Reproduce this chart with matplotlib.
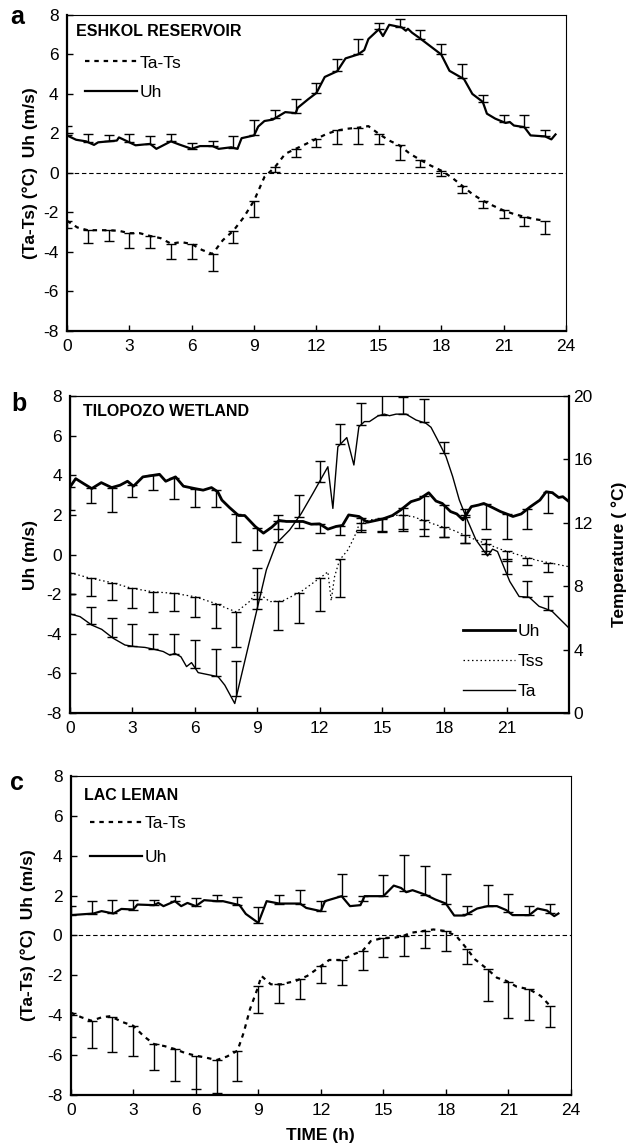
import numpy as np
import matplotlib
matplotlib.use('Agg')
import matplotlib.pyplot as plt
from matplotlib.lines import Line2D

plt.rcParams['font.family'] = ['Liberation Sans', 'DejaVu Sans']
plt.rcParams['axes.unicode_minus'] = False

hours = np.arange(24)

# Panel a - Eshkol reservoir
a_uh_t = [0, 0.44, 0.92, 1.3, 1.5, 2.0, 2.4, 2.5, 2.9, 3.3, 4.0, 4.3, 5.0, 5.4, 6.0,
          6.4, 7.0, 7.3, 7.9, 8.2, 8.4, 9.0, 9.2, 9.5, 9.9, 10.5, 11.0, 11.1, 11.6, 12.0,
          12.4, 13.0, 13.4, 14.0, 14.3, 14.5, 15.0, 15.2, 15.5, 16.1, 16.3, 16.4, 16.6, 17.0, 17.5,
          18.0, 18.4, 19.1, 19.5, 20.0, 20.2, 20.6, 21.1, 21.3, 21.5, 22.0, 22.3, 23.0, 23.3, 23.5]
a_uh = [1.9, 1.68, 1.6, 1.42, 1.55, 1.6, 1.64, 1.8, 1.6, 1.4, 1.47, 1.22, 1.6, 1.44, 1.22,
        1.36, 1.36, 1.22, 1.3, 1.22, 1.76, 1.9, 2.35, 2.63, 2.7, 3.08, 3.03, 3.3, 3.73, 4.05,
        4.86, 5.15, 5.8, 6.0, 6.22, 6.78, 7.27, 6.93, 7.5, 7.37, 7.2, 7.3, 7.1, 6.8, 6.4,
        6.0, 5.17, 4.75, 4.0, 3.6, 3.0, 2.75, 2.53, 2.58, 2.4, 2.32, 1.9, 1.85, 1.7, 1.95]
a_uh_top = [2.4, 1.95, 1.9, 1.95, 1.85, 1.95, 1.5, 1.64, 1.85, 2.7, 3.2, 3.73,
            4.56, 5.75, 6.8, 7.6, 7.8, 7.24, 6.52, 5.5, 3.93, 2.95, 2.95, 2.19]
a_tats_t = np.arange(0, 23.5, 0.5)
a_tats = [-2.42, -2.76, -2.9, -2.9, -2.9, -2.93, -3.05, -3.05, -3.19, -3.3, -3.58, -3.5,
          -3.6, -3.9, -4.1, -3.4, -2.93, -2.25, -1.4, -0.2, 0.29, 0.97, 1.22, 1.47,
          1.73, 1.98, 2.15, 2.24, 2.29, 2.37, 1.98, 1.64, 1.39, 0.97, 0.66, 0.37,
          0.12, -0.22, -0.64, -1.07, -1.4, -1.66, -1.9, -2.08, -2.22, -2.34, -2.42]
a_tats_low = [-2.8, -3.53, -3.47, -3.78, -3.78, -4.37, -4.37, -4.97, -3.53, -2.22, 0.03, 0.8,
              1.3, 1.47, 1.47, 1.47, 0.66, 0.29, -0.14, -1.03, -1.78, -2.29, -2.71, -3.1]

# Panel b - Tilopozo wetland
b_uh_t = [0, 0.27, 0.65, 1.04, 1.5, 2.0, 2.4, 2.76, 3.05, 3.5, 4.0, 4.3, 4.6, 5.07, 5.45,
          6.0, 6.4, 6.8, 7.1, 7.3, 7.66, 8.1, 8.4, 8.9, 9.3, 9.7, 10.05, 10.4, 10.8, 11.2,
          11.6, 12.0, 12.4, 12.8, 13.1, 13.4, 13.9, 14.3, 14.7, 15.05, 15.5, 15.9, 16.4, 16.8, 17.25,
          17.6, 17.9, 18.3, 18.6, 18.9, 19.3, 19.65, 19.9, 20.3, 20.7, 21.0, 21.3, 21.7, 22.15, 22.6,
          22.9, 23.2, 23.5, 23.7, 24.0]
b_uh = [3.42, 3.83, 3.58, 3.33, 3.63, 3.38, 3.5, 3.7, 3.45, 3.92, 4.0, 4.05, 3.7, 3.92, 3.45,
        3.33, 3.25, 3.38, 3.17, 2.75, 2.38, 1.97, 1.97, 1.42, 1.08, 1.38, 1.72, 1.67, 1.67, 1.67,
        1.53, 1.55, 1.28, 1.42, 1.47, 2.0, 1.92, 1.63, 1.72, 1.8, 1.97, 2.25, 2.67, 2.8, 3.12,
        2.7, 2.58, 2.17, 2.05, 1.75, 2.42, 2.5, 2.58, 2.38, 2.17, 2.05, 1.92, 2.05, 2.42, 2.75,
        3.17, 3.12, 2.88, 2.92, 2.67]
b_uh_low = [2.25, 2.58, 2.13, 2.92, 3.26, 2.79, 2.41, 2.41, 0.65, 0.23, 1.3, 1.32,
            1.1, 1.0, 1.23, 1.15, 1.27, 1.27, 0.9, 0.6, 1.31, 0.76, 1.27, 2.11]
b_ta_t = [0, 0.48, 1.04, 1.52, 2.08, 2.64, 3.12, 3.6, 4.08, 4.48, 4.8, 5.04, 5.33, 5.6, 5.84,
          6.16, 6.72, 7.12, 7.44, 7.92, 9.44, 9.92, 10.56, 11.12, 11.68, 12.4, 12.64, 12.88, 13.31, 13.65,
          13.89, 14.16, 14.4, 14.8, 15.12, 15.36, 15.68, 16.16, 16.64, 17.12, 17.36, 17.68, 18.08, 18.4, 18.72,
          19.04, 19.52, 20.08, 20.32, 20.56, 21.15, 21.6, 22.08, 22.56, 22.88, 23.2, 23.96]
b_ta = [6.25, 6.08, 5.55, 5.28, 4.71, 4.29, 4.19, 4.14, 4.01, 3.88, 3.65, 3.76, 3.55, 2.93, 3.18,
        2.55, 2.4, 2.29, 1.76, 0.6, 9.03, 10.7, 11.55, 12.59, 13.86, 15.54, 12.91, 16.8, 17.38, 15.65,
        18.06, 18.39, 18.39, 18.74, 18.86, 18.76, 18.86, 18.86, 18.49, 18.28, 18.03, 17.23, 16.19, 14.93, 13.45,
        12.39, 10.93, 9.91, 10.34, 10.19, 8.3, 7.35, 7.31, 6.73, 6.58, 6.4, 5.41]
b_ta_top = [7.5, 6.7, 6.01, 5.59, 4.96, 4.96, 4.6, 4.01, 3.28, 9.13, 12.5, 13.75,
            15.93, 18.21, 19.59, 20.1, 19.91, 19.81, 17.11, 12.9, 10.98, 9.75, 8.34, 7.4]
b_tss_t = [0, 1, 2, 3, 4, 5, 6, 7, 7.5, 8, 8.6, 9.0, 9.6, 10.2, 11.1, 12.2, 12.4, 12.56, 12.72,
           12.96, 13.36, 13.68, 13.92, 14.4, 15.1, 15.8, 16.5, 17.4, 18.4, 19.36, 20.8, 22.4, 24]
b_tss = [8.85, 8.5, 8.23, 7.86, 7.65, 7.55, 7.34, 6.91, 6.63, 6.38, 7.0, 7.63, 7.03, 7.06, 7.65,
         8.7, 8.91, 7.09, 8.6, 9.65, 10.29, 11.13, 11.96, 12.18, 12.29, 12.5, 12.39, 11.96, 11.55,
         11.01, 10.29, 9.65, 9.23]
b_tss_low = [7.5, 7.38, 7.13, 6.6, 6.39, 6.44, 6.08, 5.34, 4.18, 7.2, 5.24, 5.7,
             6.46, 7.34, 11.4, 11.5, 11.5, 11.2, 11.1, 10.75, 10.2, 9.6, 9.34, 8.9]

# Panel c - Lac Leman
c_uh_t = [0, 0.42, 1.09, 1.48, 2.05, 2.43, 3.0, 3.2, 4.0, 4.2, 4.45, 5.0, 5.3, 5.6, 6.0,
          6.4, 7.0, 7.3, 8.1, 8.4, 9.0, 9.4, 10.0, 11.0, 11.3, 12.0, 12.2, 13.0, 13.4, 13.9,
          14.1, 15.0, 15.5, 15.85, 16.1, 16.4, 17.0, 17.5, 18.0, 18.4, 18.9, 19.5, 20.0, 20.45, 20.9,
          21.2, 22.0, 22.4, 22.85, 23.2, 23.4]
c_uh = [1.02, 1.05, 1.1, 1.22, 1.1, 1.33, 1.3, 1.55, 1.52, 1.63, 1.47, 1.72, 1.47, 1.63, 1.47,
        1.77, 1.72, 1.72, 1.52, 1.08, 0.63, 1.72, 1.6, 1.6, 1.38, 1.22, 1.72, 1.97, 1.47, 1.52,
        1.97, 1.97, 2.5, 2.38, 2.17, 2.27, 2.05, 1.8, 1.6, 1.0, 1.0, 1.35, 1.47, 1.47, 1.27,
        1.02, 1.02, 1.35, 1.25, 0.97, 1.1]
c_uh_top = [1.47, 1.72, 1.8, 1.8, 1.8, 1.97, 1.88, 2.02, 1.93, 1.43, 2.02, 2.3,
            1.72, 3.08, 1.97, 3.02, 4.02, 3.47, 3.08, 1.5, 2.55, 2.08, 1.5, 1.6]
c_tats_t = [0, 0.5, 1, 1.5, 1.9, 2.5, 3, 3.5, 4, 4.5, 5, 5.5, 6, 6.5, 7, 7.5, 8, 8.3, 8.6, 8.95,
            9.15, 9.6, 10.1, 10.8, 11.35, 11.9, 12.4, 13, 13.55, 14, 14.4, 15, 15.5, 15.95, 16.3,
            16.9, 17.4, 18, 18.5, 18.9, 19.4, 20, 20.45, 20.9, 21.4, 22, 22.55, 23]
c_tats = [-3.87, -4.1, -4.28, -4.1, -4.05, -4.35, -4.53, -5.05, -5.45, -5.55, -5.7, -5.9, -6.03,
          -6.13, -6.25, -6.07, -5.78, -4.87, -3.7, -2.7, -2.03, -2.45, -2.45, -2.28, -2.03, -1.62,
          -1.23, -1.23, -0.95, -0.78, -0.28, -0.12, -0.12, -0.03, 0.13, 0.22, 0.3, 0.22, -0.03,
          -0.53, -1.2, -1.7, -2.12, -2.28, -2.57, -2.7, -3.03, -3.53]
c_tats_low = [-5.1, -5.65, -5.83, -6.07, -6.75, -7.28, -7.7, -7.9, -7.28, -3.87, -3.4, -3.17,
              -2.4, -2.47, -1.75, -1.1, -1.05, -0.62, -0.78, -1.45, -3.28, -4.15, -4.23, -4.57]

TATS_STYLE = dict(color='k', lw=1.6, linestyle=(0, (2, 2.2)))
TICK_FS = 12.5
LAB_FS = 12.5
TITLE_FS = 11.5


def add_bars(ax, t, v, ends, up):
    # error bars hang from the line at each full hour
    base = np.interp(hours, t, v)
    ends = np.asarray(ends)
    zero = np.zeros(len(hours))
    if up:
        err = [zero, np.clip(ends - base, 0, None)]
    else:
        err = [np.clip(base - ends, 0, None), zero]
    ax.errorbar(hours, base, yerr=err, fmt='none', ecolor='k',
                elinewidth=1.0, capsize=3.5, capthick=1.0)


def style(ax, xticks):
    ax.set_xlim(0, 24)
    ax.set_ylim(-8, 8)
    ax.set_yticks(np.arange(-8, 9, 2))
    ax.set_xticks(xticks)
    ax.tick_params(direction='in', length=4, width=1, labelsize=TICK_FS)
    ax.tick_params(axis='x', pad=6)
    ax.tick_params(axis='y', pad=6)
    for s in ['left', 'bottom']:
        ax.spines[s].set_linewidth(1.6)
    for s in ['top', 'right']:
        ax.spines[s].set_linewidth(0.8)


fig = plt.figure(figsize=(6.26, 11.48), dpi=100)

# ---- a
ax = fig.add_axes([0.107, 0.7117, 0.797, 0.2753])
style(ax, np.arange(0, 25, 3))
ax.axhline(0, color='k', lw=0.8, linestyle=(0, (4, 2.5)))
add_bars(ax, a_uh_t, a_uh, a_uh_top, True)
add_bars(ax, a_tats_t, a_tats, a_tats_low, False)
ax.plot(a_uh_t, a_uh, color='k', lw=1.6)
ax.plot(a_tats_t, a_tats, **TATS_STYLE)
ax.text(0.018, 0.946, 'ESHKOL RESERVOIR', transform=ax.transAxes,
        fontsize=TITLE_FS, fontweight='bold', va='center')
hd = [Line2D([], [], **TATS_STYLE), Line2D([], [], color='k', lw=1.6)]
ax.legend(hd, ['Ta-Ts', 'Uh'], loc='upper left', bbox_to_anchor=(0.036, 0.872),
          frameon=False, fontsize=LAB_FS, handlelength=3.0, handletextpad=0.15,
          labelspacing=0.85, borderpad=0, borderaxespad=0)
ax.set_ylabel('(Ta-Ts) (°C)  Uh (m/s)', fontsize=LAB_FS, fontweight='bold')
ax.yaxis.set_label_coords(-0.058, 0.5)
fig.text(0.027, 0.985, 'a', fontsize=18, fontweight='bold', ha='center', va='center')

# ---- b
ax = fig.add_axes([0.112, 0.3789, 0.797, 0.2761])
style(ax, np.arange(0, 22, 3))
ax.spines['right'].set_visible(False)
ax2 = ax.twinx()
ax2.set_ylim(0, 20)
ax2.set_yticks(np.arange(0, 21, 4))
ax2.tick_params(direction='in', length=4, width=1, labelsize=TICK_FS, pad=3)
ax2.spines['right'].set_linewidth(1.6)
ax2.spines['top'].set_linewidth(0.8)
add_bars(ax, b_uh_t, b_uh, b_uh_low, False)
add_bars(ax2, b_tss_t, b_tss, b_tss_low, False)
add_bars(ax2, b_ta_t, b_ta, b_ta_top, True)
l_uh, = ax.plot(b_uh_t, b_uh, color='k', lw=2.0)
l_tss, = ax2.plot(b_tss_t, b_tss, color='k', lw=0.9, linestyle=(0, (1.2, 2.2)))
l_ta, = ax2.plot(b_ta_t, b_ta, color='k', lw=1.0)
ax.text(0.026, 0.95, 'TILOPOZO WETLAND', transform=ax.transAxes,
        fontsize=TITLE_FS, fontweight='bold', va='center')
ax2.legend([l_uh, l_tss, l_ta], ['Uh', 'Tss', 'Ta'], loc='upper left',
           bbox_to_anchor=(0.788, 0.28), frameon=False, fontsize=LAB_FS,
           handlelength=3.0, handletextpad=0.15, labelspacing=0.85,
           borderpad=0, borderaxespad=0)
ax.set_ylabel('Uh (m/s)', fontsize=LAB_FS, fontweight='bold')
ax.yaxis.set_label_coords(-0.064, 0.5)
ax2.set_ylabel('Temperature ( °C)', fontsize=LAB_FS, fontweight='bold')
ax2.yaxis.set_label_coords(1.084, 0.5)
fig.text(0.030, 0.648, 'b', fontsize=18, fontweight='bold', ha='center', va='center')

# ---- c
ax = fig.add_axes([0.113, 0.0462, 0.799, 0.2779])
style(ax, np.arange(0, 25, 3))
ax.axhline(0, color='k', lw=0.8, linestyle=(0, (4, 2.5)))
add_bars(ax, c_uh_t, c_uh, c_uh_top, True)
add_bars(ax, c_tats_t, c_tats, c_tats_low, False)
ax.plot(c_uh_t, c_uh, color='k', lw=1.6)
ax.plot(c_tats_t, c_tats, **TATS_STYLE)
ax.text(0.026, 0.94, 'LAC LEMAN', transform=ax.transAxes,
        fontsize=TITLE_FS, fontweight='bold', va='center')
hd = [Line2D([], [], **TATS_STYLE), Line2D([], [], color='k', lw=1.6)]
ax.legend(hd, ['Ta-Ts', 'Uh'], loc='upper left', bbox_to_anchor=(0.038, 0.876),
          frameon=False, fontsize=LAB_FS, handlelength=3.0, handletextpad=0.15,
          labelspacing=1.1, borderpad=0, borderaxespad=0)
ax.set_ylabel('(Ta-Ts) (°C)  Uh (m/s)', fontsize=LAB_FS, fontweight='bold')
ax.yaxis.set_label_coords(-0.07, 0.5)
ax.set_xlabel('TIME (h)', fontsize=LAB_FS, fontweight='bold')
ax.xaxis.set_label_coords(0.5, -0.105)
fig.text(0.027, 0.318, 'c', fontsize=18, fontweight='bold', ha='center', va='center')

fig.savefig('out.png', dpi=100)
